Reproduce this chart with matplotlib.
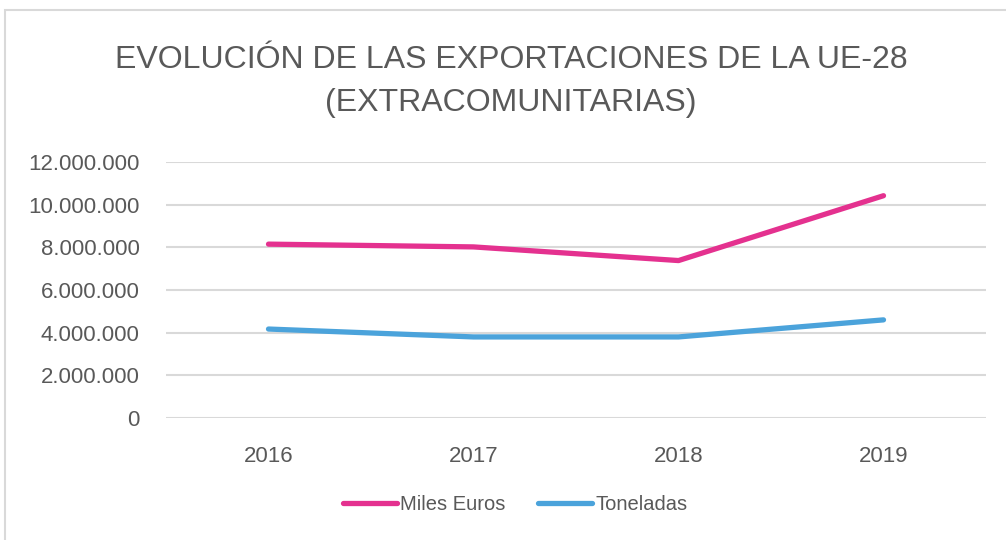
import matplotlib
matplotlib.use("Agg")
from matplotlib import pyplot as plt
from matplotlib.patches import Rectangle
from matplotlib.ticker import FuncFormatter

years = ['2016', '2017', '2018', '2019']
miles_euros = [8150000, 8020000, 7380000, 10420000]
toneladas = [4170000, 3800000, 3800000, 4600000]
series_names = ['Miles Euros', 'Toneladas']
colors = ['#E4318F', '#4BA3DB']

plt.rcParams['font.family'] = ['Liberation Sans', 'DejaVu Sans']

fig = plt.figure(figsize=(10.06, 5.4), dpi=100)
fig.patches.append(Rectangle((5 / 1006, -0.1), 1.2, 1.1 - 10 / 540, transform=fig.transFigure,
                             fill=False, edgecolor='#D9D9D9', linewidth=1.5))
ax = fig.add_axes([166 / 1006, 1 - 418 / 540, 820 / 1006, 256 / 540])

x = range(len(years))
for vals, name, c in zip([miles_euros, toneladas], series_names, colors):
    ax.plot(x, vals, color=c, linewidth=3.8, solid_capstyle='round', label=name)

ax.set_xlim(-0.5, len(years) - 0.5)
ax.set_ylim(0, 12000000)
ax.set_yticks(range(0, 12000001, 2000000))
ax.yaxis.set_major_formatter(FuncFormatter(lambda v, p: f"{int(v):,}".replace(',', '.')))
ax.set_xticks(list(x))
ax.set_xticklabels(years)
ax.grid(axis='y', color='#D9D9D9', linewidth=1.5)
ax.set_axisbelow(True)
for s in ax.spines.values():
    s.set_visible(False)
ax.tick_params(length=0, labelsize=16, labelcolor='#595959')
ax.tick_params(axis='x', pad=20)
ax.tick_params(axis='y', pad=19)

fig.text(0.508, 1 - 60 / 540, 'EVOLUCIÓN DE LAS EXPORTACIONES DE LA UE-28', ha='center', va='center',
         fontsize=23, color='#595959')
fig.text(0.508, 1 - 103 / 540, '(EXTRACOMUNITARIAS)', ha='center', va='center',
         fontsize=23, color='#595959')

fig.legend(loc='center', bbox_to_anchor=(515 / 1006, 1 - 505 / 540), ncol=2, frameon=False,
           fontsize=14.5, labelcolor='#595959', handlelength=2.7, handletextpad=0.15, columnspacing=1.6)

fig.savefig('out.png', dpi=100, facecolor='white')
